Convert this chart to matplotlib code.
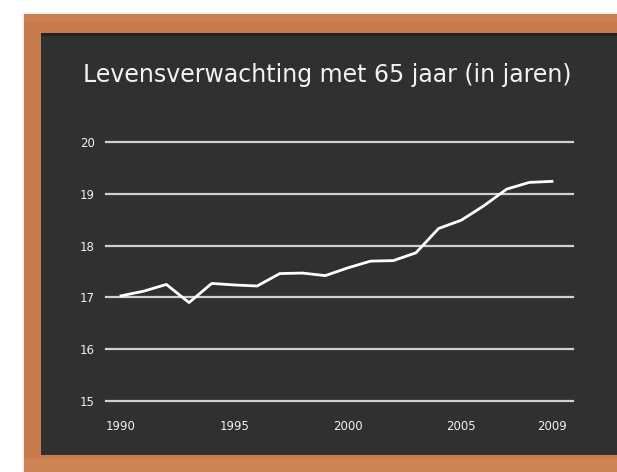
import matplotlib
matplotlib.use("Agg")
import matplotlib.pyplot as plt
from matplotlib.patches import Rectangle

years = [1990, 1991, 1992, 1993, 1994, 1995, 1996, 1997, 1998, 1999,
         2000, 2001, 2002, 2003, 2004, 2005, 2006, 2007, 2008, 2009]
life_exp = [17.03, 17.12, 17.25, 16.90, 17.27, 17.24, 17.22, 17.46, 17.47, 17.42,
            17.57, 17.70, 17.71, 17.86, 18.33, 18.49, 18.77, 19.09, 19.22, 19.24]
yticks = [15, 16, 17, 18, 19, 20]
xticks = [1990, 1995, 2000, 2005, 2009]
title = "Levensverwachting met 65 jaar (in jaren)"

W, H = 617, 472
fig = plt.figure(figsize=(W / 100, H / 100), dpi=100)
fig.patch.set_facecolor("white")

bg = fig.add_axes([0, 0, 1, 1])
bg.set_xlim(0, W)
bg.set_ylim(H, 0)
bg.axis("off")
# subtle shadow
bg.add_patch(Rectangle((22, 12), W, H, facecolor="#f1f1f1", edgecolor="none"))
# wood frame
bg.add_patch(Rectangle((24, 14), W, H, facecolor="#c77b4a", edgecolor="none"))
bg.add_patch(Rectangle((24, 14), W, 8, facecolor="#d08656", edgecolor="none", alpha=0.6))
bg.add_patch(Rectangle((24, 458), W, 20, facecolor="#d08858", edgecolor="none", alpha=0.6))
# board
bg.add_patch(Rectangle((41, 33), W, 422, facecolor="#2f3131", edgecolor="none"))
bg.add_patch(Rectangle((41, 33), W, 3, facecolor="#1f2020", edgecolor="none", alpha=0.7))

fig.text(327 / W, 1 - 75 / H, title, ha="center", va="center",
         color="#f2f2f2", fontsize=17, family="DejaVu Sans")

x_left, x_right = 106, 573
y_top, y_bot = 142, 401
ax = fig.add_axes([x_left / W, 1 - y_bot / H, (x_right - x_left) / W, (y_bot - y_top) / H])
ax.patch.set_alpha(0)
px = 19 / (552 - 121)
ax.set_xlim(1990 - 15 * px, 2009 + 21 * px)
ax.set_ylim(15, 20)
for s in ax.spines.values():
    s.set_visible(False)

for yv in yticks:
    ax.axhline(yv, color="#d0d0d0", lw=1.6, clip_on=False, zorder=1)

ax.plot(years, life_exp, color="white", lw=2.0, clip_on=False, zorder=3,
        solid_joinstyle="round")

ax.set_yticks(yticks)
ax.set_yticklabels([str(v) for v in yticks])
ax.set_xticks(xticks)
ax.set_xticklabels([str(v) for v in xticks])
ax.tick_params(axis="both", length=0, colors="#f0f0f0", labelsize=8.5)
ax.tick_params(axis="y", pad=8)
ax.tick_params(axis="x", pad=14)

fig.savefig("out.png", dpi=100, facecolor="white")
